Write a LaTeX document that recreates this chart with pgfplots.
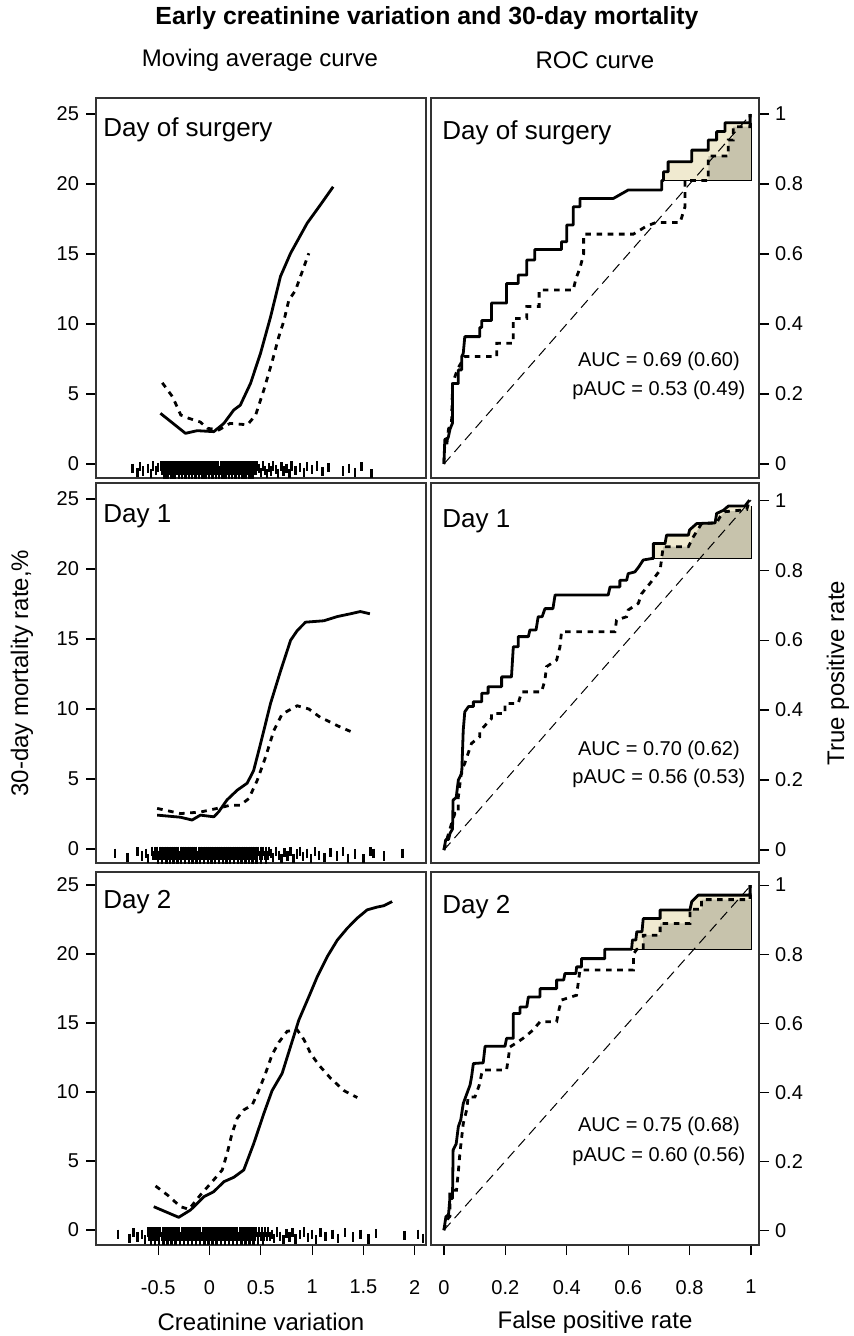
\documentclass[border=0pt]{standalone}
\usepackage{fontspec}
\setmainfont{Liberation Sans}
\usepackage{pgfplots}
\pgfplotsset{compat=1.18}
\definecolor{pauclight}{RGB}{240,234,208}
\definecolor{paucdark}{RGB}{199,195,172}

\tikzset{
  daylab/.style={anchor=base west, inner sep=0pt, font=\fontsize{13}{15}\selectfont},
  auclab/.style={font=\fontsize{10}{12}\selectfont},
}
\pgfplotsset{
  panel/.style={scale only axis, height=190pt,
    axis line style={line width=0.8pt, black!80},
    tick style={line width=0.6pt, black}, tick align=outside, major tick length=5pt,
    tick label style={font=\fontsize{10}{12}\selectfont},
    xticklabel style={yshift=-9pt}},
  mavg/.style={panel, width=165pt, xmin=-1.106, xmax=2.11, ymin=-1, ymax=26.14,
    ytick={0,5,10,15,20,25}, yticklabels={0,5,10,15,20,25}, ytick pos=left,
    xtick=\empty},
  roc/.style={panel, width=164pt, xmin=-0.042, xmax=1.026, ymin=-0.04, ymax=1.046,
    ytick={0,0.2,0.4,0.6,0.8,1}, yticklabels={0,0.2,0.4,0.6,0.8,1},
    ytick pos=right, yticklabel pos=right, yticklabel style={xshift=-0.5pt}, xtick=\empty},
  solidc/.style={line width=1.4pt, black, line join=round},
  dotc/.style={line width=1.4pt, black, dash pattern=on 2.8pt off 2.8pt},
  rug/.style={only marks, mark=|, mark size=2.3pt, mark options={line width=1.2pt, black}},
  diag/.style={line width=0.5pt, black, dash pattern=on 5pt off 3pt},
  outl/.style={line width=0.5pt, black},
}

\begin{document}
\begin{tikzpicture}
\useasboundingbox (0pt,0pt) rectangle (427pt,-668pt);

% ---------------- top row: day of surgery ----------------
\begin{axis}[mavg, at={(48pt,-239pt)}, anchor=south west]
\addplot[rug] coordinates {(-0.47,-0.15) (-0.45,-0.15) (-0.43,-0.15) (-0.405,-0.15) (-0.39,-0.15) (-0.37,-0.15) (-0.345,-0.15) (-0.33,-0.15) (-0.31,-0.15) (-0.285,-0.15) (-0.27,-0.15) (-0.25,-0.15) (-0.23,-0.15) (-0.21,-0.15) (-0.195,-0.15) (-0.17,-0.15) (-0.15,-0.15) (-0.13,-0.15) (-0.115,-0.15) (-0.09,-0.15) (-0.07,-0.15) (-0.055,-0.15) (-0.03,-0.15) (-0.01,-0.15) (0.01,-0.15) (0.025,-0.15) (0.05,-0.15) (0.07,-0.15) (0.085,-0.15) (0.11,-0.15) (0.13,-0.15) (0.145,-0.15) (0.17,-0.15) (0.19,-0.15) (0.21,-0.15) (0.225,-0.15) (0.25,-0.15) (0.27,-0.15) (0.29,-0.15) (0.31,-0.15) (0.33,-0.15) (0.355,-0.15) (0.37,-0.15) (0.395,-0.15) (0.42,-0.15) (0.44,-0.15) (0.465,-0.15)};
\addplot[rug] coordinates {(-0.46,-0.45) (-0.44,-0.45) (-0.415,-0.45) (-0.4,-0.45) (-0.38,-0.45) (-0.355,-0.45) (-0.34,-0.45) (-0.32,-0.45) (-0.295,-0.45) (-0.275,-0.45) (-0.26,-0.45) (-0.24,-0.45) (-0.22,-0.45) (-0.2,-0.45) (-0.18,-0.45) (-0.16,-0.45) (-0.14,-0.45) (-0.12,-0.45) (-0.1,-0.45) (-0.08,-0.45) (-0.065,-0.45) (-0.04,-0.45) (-0.02,-0.45) (0,-0.45) (0.02,-0.45) (0.04,-0.45) (0.06,-0.45) (0.075,-0.45) (0.1,-0.45) (0.12,-0.45) (0.135,-0.45) (0.16,-0.45) (0.18,-0.45) (0.2,-0.45) (0.215,-0.45) (0.24,-0.45) (0.26,-0.45) (0.28,-0.45) (0.3,-0.45) (0.32,-0.45) (0.34,-0.45) (0.36,-0.45) (0.385,-0.45) (0.41,-0.45) (0.43,-0.45) (0.455,-0.45)};
\addplot[rug] coordinates {(-0.44,-0.72) (-0.41,-0.72) (-0.37,-0.72) (-0.34,-0.72) (-0.3,-0.72) (-0.27,-0.72) (-0.235,-0.72) (-0.2,-0.72) (-0.17,-0.72) (-0.135,-0.72) (-0.1,-0.72) (-0.07,-0.72) (-0.04,-0.72) (-0.005,-0.72) (0.03,-0.72) (0.065,-0.72) (0.09,-0.72) (0.125,-0.72) (0.155,-0.72) (0.19,-0.72) (0.22,-0.72) (0.255,-0.72) (0.285,-0.72) (0.32,-0.72) (0.35,-0.72) (0.39,-0.72) (0.42,-0.72)};
\addplot[rug] coordinates {(-0.75,-0.3) (-0.7,-0.6) (-0.68,-0.2) (-0.65,-0.5) (-0.6,-0.3) (-0.57,-0.7) (-0.55,-0.15) (-0.52,-0.45) (-0.5,-0.25) (0.48,-0.3) (0.5,-0.6) (0.52,-0.15) (0.54,-0.45) (0.56,-0.7) (0.58,-0.25) (0.6,-0.5) (0.62,-0.15) (0.65,-0.4) (0.67,-0.65) (0.7,-0.2) (0.72,-0.5) (0.75,-0.3) (0.78,-0.7) (0.8,-0.15) (0.84,-0.45) (0.88,-0.25) (0.92,-0.6) (0.95,-0.2) (1.0,-0.4) (1.05,-0.15) (1.1,-0.55) (1.16,-0.25) (1.3,-0.5) (1.36,-0.3) (1.42,-0.6) (1.48,-0.2) (1.58,-0.7)};
\addplot[dotc] coordinates {(-0.46,5.8) (-0.36,4.8) (-0.28,3.5) (-0.2,3.26) (-0.09,3.0) (-0.02,2.55) (0.09,2.43) (0.2,2.9) (0.37,2.8) (0.45,3.5) (0.53,5.3) (0.61,7.3) (0.676,9.1) (0.724,10.2) (0.773,11.7) (0.838,12.4) (0.887,13.4) (0.968,15.05)};
\addplot[solidc] coordinates {(-0.478,3.62) (-0.234,2.19) (-0.12,2.38) (0.042,2.31) (0.14,2.9) (0.237,3.86) (0.30,4.2) (0.40,5.76) (0.497,7.9) (0.595,10.5) (0.692,13.4) (0.79,15.05) (0.952,17.2) (1.08,18.5) (1.205,19.8)};
\node[daylab, xshift=3.5pt, yshift=-19.5pt] at (rel axis cs:0,1) {Day of surgery};
\end{axis}

\begin{axis}[roc, at={(215.5pt,-239pt)}, anchor=south west]
\addplot[fill=pauclight, draw=none] coordinates {(0.709,0.81) (0.715,0.81) (0.715,0.835) (0.73,0.835) (0.73,0.864) (0.807,0.864) (0.807,0.897) (0.861,0.897) (0.861,0.926) (0.888,0.926) (0.888,0.95) (0.915,0.95) (0.915,0.975) (1,0.975) (1,0.81)};
\addplot[fill=paucdark, draw=none] coordinates {(0.861,0.81) (0.861,0.88) (0.926,0.88) (0.926,0.926) (0.942,0.926) (0.942,0.964) (1,0.964) (1,0.81)};
\addplot[outl] coordinates {(0.709,0.81) (1,0.81) (1,0.975)};
\addplot[diag] coordinates {(0,0) (1,1)};
\addplot[dotc] coordinates {(0,0) (0.003,0.06) (0.01,0.06) (0.015,0.1) (0.025,0.12) (0.028,0.23) (0.04,0.26) (0.05,0.28) (0.068,0.307) (0.172,0.307) (0.172,0.345) (0.226,0.345) (0.226,0.416) (0.27,0.416) (0.27,0.45) (0.31,0.45) (0.31,0.497) (0.421,0.497) (0.43,0.53) (0.443,0.56) (0.455,0.60) (0.455,0.657) (0.617,0.657) (0.66,0.68) (0.69,0.69) (0.769,0.69) (0.785,0.735) (0.785,0.81) (0.861,0.81) (0.861,0.88) (0.926,0.88) (0.926,0.926) (0.942,0.926) (0.942,0.964) (0.997,0.964) (0.997,1.0)};
\addplot[solidc] coordinates {(0,0) (0.003,0.07) (0.014,0.075) (0.02,0.1) (0.028,0.117) (0.028,0.23) (0.047,0.23) (0.047,0.269) (0.058,0.269) (0.058,0.307) (0.063,0.316) (0.068,0.364) (0.117,0.364) (0.117,0.39) (0.123,0.39) (0.123,0.41) (0.155,0.41) (0.155,0.46) (0.204,0.46) (0.204,0.516) (0.242,0.516) (0.242,0.54) (0.27,0.54) (0.27,0.583) (0.296,0.583) (0.296,0.613) (0.383,0.613) (0.383,0.635) (0.40,0.635) (0.40,0.683) (0.421,0.683) (0.421,0.735) (0.443,0.735) (0.443,0.759) (0.552,0.759) (0.60,0.783) (0.709,0.783) (0.709,0.81) (0.715,0.81) (0.715,0.835) (0.73,0.835) (0.73,0.864) (0.807,0.864) (0.807,0.897) (0.861,0.897) (0.861,0.926) (0.888,0.926) (0.888,0.95) (0.915,0.95) (0.915,0.975) (0.997,0.975) (0.997,1.0)};
\node[daylab, xshift=5.5pt, yshift=-21pt] at (rel axis cs:0,1) {Day of surgery};
\node[auclab] at (axis cs:0.70,0.293) {AUC = 0.69 (0.60)};
\node[auclab] at (axis cs:0.70,0.211) {pAUC = 0.53 (0.49)};
\end{axis}

% ---------------- middle row: day 1 ----------------
\begin{axis}[mavg, at={(48pt,-431.5pt)}, anchor=south west]
\addplot[rug] coordinates {(-0.56,-0.15) (-0.53,-0.15) (-0.51,-0.15) (-0.48,-0.15) (-0.46,-0.15) (-0.44,-0.15) (-0.415,-0.15) (-0.39,-0.15) (-0.37,-0.15) (-0.35,-0.15) (-0.325,-0.15) (-0.305,-0.15) (-0.28,-0.15) (-0.26,-0.15) (-0.24,-0.15) (-0.215,-0.15) (-0.195,-0.15) (-0.17,-0.15) (-0.15,-0.15) (-0.13,-0.15) (-0.105,-0.15) (-0.085,-0.15) (-0.06,-0.15) (-0.04,-0.15) (-0.02,-0.15) (0.005,-0.15) (0.025,-0.15) (0.05,-0.15) (0.07,-0.15) (0.09,-0.15) (0.115,-0.15) (0.135,-0.15) (0.16,-0.15) (0.18,-0.15) (0.2,-0.15) (0.225,-0.15) (0.245,-0.15) (0.27,-0.15) (0.29,-0.15) (0.31,-0.15) (0.335,-0.15) (0.355,-0.15) (0.38,-0.15) (0.4,-0.15) (0.425,-0.15) (0.45,-0.15) (0.47,-0.15) (0.5,-0.15) (0.52,-0.15) (0.55,-0.15) (0.58,-0.15)};
\addplot[rug] coordinates {(-0.545,-0.45) (-0.52,-0.45) (-0.495,-0.45) (-0.47,-0.45) (-0.45,-0.45) (-0.425,-0.45) (-0.4,-0.45) (-0.38,-0.45) (-0.36,-0.45) (-0.335,-0.45) (-0.315,-0.45) (-0.29,-0.45) (-0.27,-0.45) (-0.25,-0.45) (-0.225,-0.45) (-0.205,-0.45) (-0.18,-0.45) (-0.16,-0.45) (-0.14,-0.45) (-0.115,-0.45) (-0.095,-0.45) (-0.07,-0.45) (-0.05,-0.45) (-0.03,-0.45) (-0.005,-0.45) (0.015,-0.45) (0.04,-0.45) (0.06,-0.45) (0.08,-0.45) (0.1,-0.45) (0.125,-0.45) (0.145,-0.45) (0.17,-0.45) (0.19,-0.45) (0.21,-0.45) (0.235,-0.45) (0.255,-0.45) (0.28,-0.45) (0.3,-0.45) (0.32,-0.45) (0.345,-0.45) (0.365,-0.45) (0.39,-0.45) (0.41,-0.45) (0.44,-0.45) (0.46,-0.45) (0.49,-0.45) (0.51,-0.45) (0.54,-0.45) (0.57,-0.45)};
\addplot[rug] coordinates {(-0.5,-0.72) (-0.46,-0.72) (-0.42,-0.72) (-0.385,-0.72) (-0.35,-0.72) (-0.31,-0.72) (-0.275,-0.72) (-0.24,-0.72) (-0.2,-0.72) (-0.165,-0.72) (-0.125,-0.72) (-0.09,-0.72) (-0.055,-0.72) (-0.015,-0.72) (0.02,-0.72) (0.055,-0.72) (0.095,-0.72) (0.13,-0.72) (0.165,-0.72) (0.2,-0.72) (0.24,-0.72) (0.275,-0.72) (0.31,-0.72) (0.35,-0.72) (0.385,-0.72) (0.42,-0.72) (0.46,-0.72) (0.5,-0.72) (0.55,-0.72)};
\addplot[rug] coordinates {(-0.92,-0.3) (-0.8,-0.6) (-0.7,-0.2) (-0.66,-0.5) (-0.62,-0.3) (-0.6,-0.7) (0.6,-0.3) (0.62,-0.6) (0.65,-0.15) (0.68,-0.45) (0.7,-0.7) (0.73,-0.25) (0.76,-0.5) (0.79,-0.2) (0.82,-0.65) (0.85,-0.35) (0.88,-0.15) (0.91,-0.55) (0.95,-0.3) (0.99,-0.7) (1.03,-0.2) (1.07,-0.45) (1.12,-0.6) (1.18,-0.25) (1.24,-0.5) (1.3,-0.2) (1.35,-0.65) (1.42,-0.35) (1.5,-0.7) (1.57,-0.2) (1.6,-0.3) (1.7,-0.5) (1.88,-0.3)};
\addplot[dotc] coordinates {(-0.51,2.9) (-0.283,2.53) (-0.088,2.64) (0.075,2.9) (0.205,3.13) (0.30,3.13) (0.383,3.6) (0.465,4.9) (0.546,6.56) (0.627,8.46) (0.708,9.64) (0.855,10.23) (0.968,10.0) (1.08,9.4) (1.147,9.17) (1.277,8.7) (1.39,8.35)};
\addplot[solidc] coordinates {(-0.51,2.42) (-0.283,2.27) (-0.17,2.07) (-0.088,2.42) (0.042,2.3) (0.09,2.66) (0.17,3.5) (0.27,4.2) (0.367,4.7) (0.43,5.6) (0.497,7.5) (0.595,10.4) (0.692,12.7) (0.79,14.9) (0.855,15.6) (0.936,16.2) (1.114,16.3) (1.245,16.6) (1.374,16.8) (1.47,16.96) (1.563,16.8)};
\node[daylab, xshift=3.5pt, yshift=-19.5pt] at (rel axis cs:0,1) {Day 1};
\end{axis}

\begin{axis}[roc, at={(215.5pt,-431.5pt)}, anchor=south west, ymin=-0.037, ymax=1.049]
\addplot[fill=pauclight, draw=none] coordinates {(0.682,0.833) (0.682,0.876) (0.72,0.876) (0.725,0.9) (0.796,0.9) (0.80,0.915) (0.823,0.933) (0.883,0.935) (0.888,0.962) (0.91,0.971) (0.926,0.983) (1,0.983) (1,0.833)};
\addplot[fill=paucdark, draw=none] coordinates {(0.709,0.833) (0.714,0.867) (0.796,0.867) (0.812,0.895) (0.839,0.933) (0.888,0.935) (0.899,0.952) (0.915,0.967) (1,0.973) (1,0.833)};
\addplot[outl] coordinates {(0.676,0.833) (1,0.833) (1,0.983)};
\addplot[diag] coordinates {(0,0) (1,1)};
\addplot[dotc] coordinates {(0,0) (0.009,0.029) (0.025,0.076) (0.036,0.105) (0.047,0.105) (0.047,0.152) (0.058,0.229) (0.068,0.248) (0.09,0.305) (0.117,0.324) (0.117,0.34) (0.155,0.376) (0.155,0.39) (0.199,0.39) (0.199,0.419) (0.242,0.419) (0.253,0.452) (0.318,0.452) (0.329,0.486) (0.334,0.524) (0.367,0.543) (0.378,0.581) (0.383,0.624) (0.557,0.624) (0.562,0.657) (0.595,0.667) (0.60,0.686) (0.633,0.705) (0.644,0.733) (0.671,0.762) (0.704,0.80) (0.709,0.833) (0.714,0.867) (0.796,0.867) (0.812,0.895) (0.839,0.933) (0.888,0.935) (0.899,0.952) (0.915,0.967) (0.986,0.973) (0.995,1.0)};
\addplot[solidc] coordinates {(0,0) (0.006,0.03) (0.015,0.03) (0.02,0.048) (0.028,0.06) (0.03,0.143) (0.04,0.15) (0.047,0.2) (0.058,0.219) (0.063,0.343) (0.068,0.395) (0.08,0.41) (0.096,0.41) (0.096,0.424) (0.123,0.424) (0.123,0.448) (0.144,0.448) (0.144,0.467) (0.188,0.467) (0.188,0.495) (0.22,0.495) (0.226,0.581) (0.242,0.581) (0.242,0.61) (0.275,0.61) (0.28,0.629) (0.30,0.629) (0.307,0.667) (0.32,0.667) (0.329,0.69) (0.355,0.69) (0.362,0.729) (0.535,0.729) (0.541,0.752) (0.573,0.752) (0.573,0.771) (0.595,0.771) (0.60,0.79) (0.622,0.795) (0.635,0.81) (0.649,0.829) (0.676,0.833) (0.682,0.833) (0.682,0.876) (0.72,0.876) (0.725,0.9) (0.796,0.9) (0.80,0.915) (0.823,0.933) (0.883,0.935) (0.888,0.962) (0.91,0.971) (0.926,0.983) (0.98,0.983) (0.995,1.0)};
\node[daylab, xshift=5.5pt, yshift=-22pt] at (rel axis cs:0,1) {Day 1};
\node[auclab] at (axis cs:0.70,0.285) {AUC = 0.70 (0.62)};
\node[auclab] at (axis cs:0.70,0.205) {pAUC = 0.56 (0.53)};
\end{axis}

% ---------------- bottom row: day 2 ----------------
\begin{axis}[mavg, at={(48pt,-622.5pt)}, anchor=south west, height=186.5pt,
  ymin=-1.087, ymax=25.94,
  xtick={-0.5,0,0.5,1,1.5,2}, xticklabels={-0.5,0,0.5,1,1.5,2}, xtick pos=bottom]
\addplot[rug] coordinates {(-0.6,-0.15) (-0.575,-0.15) (-0.55,-0.15) (-0.525,-0.15) (-0.5,-0.15) (-0.48,-0.15) (-0.455,-0.15) (-0.43,-0.15) (-0.41,-0.15) (-0.385,-0.15) (-0.36,-0.15) (-0.34,-0.15) (-0.315,-0.15) (-0.295,-0.15) (-0.27,-0.15) (-0.25,-0.15) (-0.225,-0.15) (-0.2,-0.15) (-0.18,-0.15) (-0.155,-0.15) (-0.135,-0.15) (-0.11,-0.15) (-0.09,-0.15) (-0.065,-0.15) (-0.045,-0.15) (-0.02,-0.15) (0,-0.15) (0.025,-0.15) (0.045,-0.15) (0.07,-0.15) (0.09,-0.15) (0.115,-0.15) (0.135,-0.15) (0.16,-0.15) (0.18,-0.15) (0.205,-0.15) (0.225,-0.15) (0.25,-0.15) (0.27,-0.15) (0.295,-0.15) (0.315,-0.15) (0.34,-0.15) (0.36,-0.15) (0.385,-0.15) (0.405,-0.15) (0.43,-0.15) (0.455,-0.15) (0.48,-0.15) (0.51,-0.15) (0.54,-0.15) (0.57,-0.15)};
\addplot[rug] coordinates {(-0.59,-0.45) (-0.565,-0.45) (-0.54,-0.45) (-0.515,-0.45) (-0.49,-0.45) (-0.465,-0.45) (-0.445,-0.45) (-0.42,-0.45) (-0.395,-0.45) (-0.375,-0.45) (-0.35,-0.45) (-0.325,-0.45) (-0.305,-0.45) (-0.28,-0.45) (-0.26,-0.45) (-0.235,-0.45) (-0.21,-0.45) (-0.19,-0.45) (-0.165,-0.45) (-0.145,-0.45) (-0.12,-0.45) (-0.1,-0.45) (-0.075,-0.45) (-0.055,-0.45) (-0.03,-0.45) (-0.01,-0.45) (0.015,-0.45) (0.035,-0.45) (0.06,-0.45) (0.08,-0.45) (0.105,-0.45) (0.125,-0.45) (0.15,-0.45) (0.17,-0.45) (0.195,-0.45) (0.215,-0.45) (0.24,-0.45) (0.26,-0.45) (0.285,-0.45) (0.305,-0.45) (0.33,-0.45) (0.35,-0.45) (0.375,-0.45) (0.395,-0.45) (0.42,-0.45) (0.445,-0.45) (0.47,-0.45) (0.5,-0.45) (0.53,-0.45) (0.56,-0.45) (0.59,-0.45)};
\addplot[rug] coordinates {(-0.57,-0.75) (-0.53,-0.75) (-0.49,-0.75) (-0.45,-0.75) (-0.41,-0.75) (-0.37,-0.75) (-0.33,-0.75) (-0.29,-0.75) (-0.25,-0.75) (-0.21,-0.75) (-0.17,-0.75) (-0.13,-0.75) (-0.09,-0.75) (-0.05,-0.75) (-0.01,-0.75) (0.03,-0.75) (0.07,-0.75) (0.11,-0.75) (0.15,-0.75) (0.19,-0.75) (0.23,-0.75) (0.27,-0.75) (0.31,-0.75) (0.35,-0.75) (0.39,-0.75) (0.43,-0.75) (0.47,-0.75) (0.52,-0.75)};
\addplot[rug] coordinates {(-0.89,-0.3) (-0.78,-0.6) (-0.74,-0.2) (-0.7,-0.5) (-0.66,-0.3) (-0.63,-0.7) (0.61,-0.3) (0.63,-0.6) (0.66,-0.15) (0.69,-0.45) (0.72,-0.7) (0.75,-0.25) (0.78,-0.5) (0.81,-0.2) (0.84,-0.65) (0.88,-0.35) (0.92,-0.15) (0.96,-0.55) (1.0,-0.3) (1.04,-0.7) (1.08,-0.2) (1.13,-0.45) (1.2,-0.3) (1.25,-0.6) (1.32,-0.2) (1.4,-0.5) (1.47,-0.3) (1.55,-0.65) (1.62,-0.25) (1.9,-0.4) (2.03,-0.3) (2.08,-0.6)};
\addplot[dotc] coordinates {(-0.526,3.19) (-0.41,2.54) (-0.283,1.69) (-0.2,1.5) (-0.088,2.54) (0.026,3.5) (0.124,4.35) (0.172,5.56) (0.22,7.0) (0.27,8.1) (0.334,8.7) (0.416,9.06) (0.48,10.1) (0.546,11.35) (0.61,12.7) (0.676,13.6) (0.757,14.4) (0.855,14.5) (0.92,13.8) (0.985,12.8) (1.065,11.96) (1.18,11.0) (1.31,10.1) (1.44,9.6)};
\addplot[solidc] coordinates {(-0.543,1.69) (-0.30,0.92) (-0.185,1.45) (-0.055,2.41) (0.042,2.78) (0.14,3.5) (0.237,3.82) (0.334,4.35) (0.432,6.28) (0.53,8.45) (0.61,10.1) (0.708,11.35) (0.79,13.3) (0.87,15.2) (0.968,16.9) (1.05,18.35) (1.147,19.8) (1.245,21.0) (1.342,21.86) (1.44,22.6) (1.537,23.2) (1.634,23.4) (1.70,23.5) (1.78,23.8)};
\node[daylab, xshift=3.5pt, yshift=-18pt] at (rel axis cs:0,1) {Day 2};
\end{axis}

\begin{axis}[roc, at={(215.5pt,-622.5pt)}, anchor=south west, height=186.5pt,
  ymin=-0.043, ymax=1.038,
  xtick={0,0.2,0.4,0.6,0.8,1}, xticklabels={0,0.2,0.4,0.6,0.8,1}, xtick pos=bottom]
\addplot[fill=pauclight, draw=none] coordinates {(0.611,0.814) (0.614,0.841) (0.625,0.841) (0.628,0.865) (0.645,0.865) (0.649,0.903) (0.704,0.903) (0.704,0.928) (0.801,0.928) (0.807,0.952) (0.828,0.971) (1,0.971) (1,0.814)};
\addplot[fill=paucdark, draw=none] coordinates {(0.649,0.814) (0.649,0.855) (0.704,0.855) (0.704,0.889) (0.801,0.889) (0.801,0.93) (0.839,0.93) (0.839,0.958) (1,0.958) (1,0.814)};
\addplot[outl] coordinates {(0.611,0.814) (1,0.814) (1,0.971)};
\addplot[diag] coordinates {(0,0) (1,1)};
\addplot[dotc] coordinates {(0,0) (0.009,0.029) (0.0195,0.04) (0.0195,0.116) (0.041,0.116) (0.047,0.17) (0.052,0.222) (0.063,0.309) (0.074,0.348) (0.079,0.386) (0.101,0.386) (0.115,0.42) (0.123,0.454) (0.128,0.464) (0.204,0.464) (0.21,0.50) (0.215,0.531) (0.24,0.545) (0.264,0.56) (0.29,0.58) (0.313,0.604) (0.367,0.604) (0.375,0.64) (0.383,0.667) (0.432,0.681) (0.443,0.754) (0.617,0.754) (0.617,0.80) (0.628,0.814) (0.649,0.814) (0.649,0.855) (0.704,0.855) (0.704,0.889) (0.801,0.889) (0.801,0.93) (0.839,0.93) (0.839,0.958) (0.997,0.958) (0.997,1.0)};
\addplot[solidc] coordinates {(0,0) (0.0065,0.039) (0.015,0.045) (0.0195,0.092) (0.028,0.092) (0.03,0.232) (0.04,0.25) (0.047,0.30) (0.055,0.32) (0.063,0.367) (0.079,0.406) (0.085,0.42) (0.09,0.444) (0.096,0.483) (0.128,0.485) (0.134,0.533) (0.199,0.533) (0.204,0.556) (0.226,0.556) (0.226,0.628) (0.248,0.628) (0.248,0.647) (0.27,0.647) (0.275,0.676) (0.313,0.676) (0.313,0.70) (0.367,0.70) (0.367,0.725) (0.39,0.725) (0.394,0.744) (0.43,0.744) (0.432,0.763) (0.448,0.763) (0.448,0.787) (0.524,0.787) (0.524,0.814) (0.611,0.814) (0.614,0.841) (0.625,0.841) (0.628,0.865) (0.645,0.865) (0.649,0.903) (0.704,0.903) (0.704,0.928) (0.801,0.928) (0.807,0.952) (0.828,0.971) (0.997,0.971) (0.997,1.0)};
\node[daylab, xshift=5.5pt, yshift=-20.5pt] at (rel axis cs:0,1) {Day 2};
\node[auclab] at (axis cs:0.70,0.30) {AUC = 0.75 (0.68)};
\node[auclab] at (axis cs:0.70,0.215) {pAUC = 0.60 (0.56)};
\end{axis}

% ---------------- outer titles and labels ----------------
\node[font=\bfseries\fontsize{12.4}{14}\selectfont] at (213.5pt,-9pt) {Early creatinine variation and 30-day mortality};
\node[font=\fontsize{12}{14}\selectfont] at (130pt,-30pt) {Moving average curve};
\node[font=\fontsize{12}{14}\selectfont] at (297.5pt,-30pt) {ROC curve};
\node[font=\fontsize{12}{14}\selectfont, rotate=90] at (11pt,-336.5pt) {30-day mortality rate,\%};
\node[font=\fontsize{12}{14}\selectfont, rotate=90] at (419pt,-336.5pt) {True positive rate};
\node[font=\fontsize{12}{14}\selectfont] at (130.5pt,-661pt) {Creatinine variation};
\node[font=\fontsize{12}{14}\selectfont] at (297.5pt,-661pt) {False positive rate};
\end{tikzpicture}
\end{document}
